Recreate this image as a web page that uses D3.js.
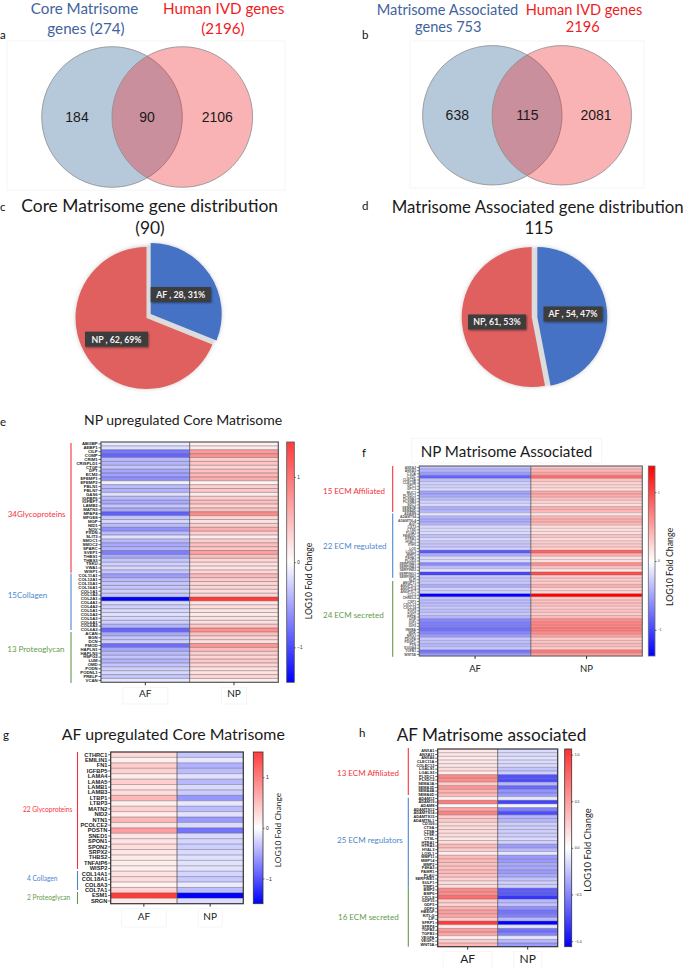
<!DOCTYPE html>
<html>
<head>
<meta charset="utf-8">
<script src="https://cdn.jsdelivr.net/npm/d3@7"></script>
<style>
  html, body { margin: 0; padding: 0; background: #fff; }
  svg { display: block; }
  text { font-family: Lato, sans-serif; fill: #1a1a1a; }
  .gene text { font-family: "Liberation Sans", Arial, sans-serif; font-weight: bold; }
  .tickNum text { font-family: "Liberation Sans", Arial, sans-serif; fill: #222; }
</style>
</head>
<body>
<div id="chart"></div>
<script>
//VENN COUNTS
var vennA = [184, 90, 2106];
var vennB = [638, 115, 2081];

//PIE VALUES
var pieSlices = ["AF", "NP"];
var pieC = [28, 62];
var pieD = [54, 61];
var pieCLabels = ["AF , 28, 31%", "NP  , 62, 69%"];
var pieDLabels = ["AF , 54, 47%", "NP, 61, 53%"];

//HEATMAP COLUMNS
var columns = ["AF", "NP"];

//PANEL E: NP UPREGULATED CORE MATRISOME
var eGenes = ["ABI3BP","AEBP1","CILP","COMP","CRIM1","CRISPLD1","CTGF","DPT","ECM2","EFEMP1","EFEMP2","FBLN1","FBLN7","GAS6","IGFBP6","IGFBP7","LAMB2","MATN3","MFAP4","MFGE8","MGP","NID1","NOV","PXDN","SLIT3","SMOC1","SMOC2","SPARC","SVEP1","THBS1","THBS3","TSKU","VWA1","WISP1",
  "COL11A1","COL12A1","COL15A1","COL16A1","COL1A1","COL1A2","COL2A1","COL4A1","COL4A2","COL5A1","COL5A2","COL5A3","COL6A1","COL6A2","COL6A3",
  "ACAN","BGN","DCN","FMOD","HAPLN1","HAPLN3","HSPG2","LUM","OMD","PODN","PODNL1","PRELP","VCAN"];
var eAF = [-0.12,-0.18,-0.75,-0.85,-0.38,-0.42,-0.32,-0.48,-0.52,-0.62,-0.08,-0.38,-0.42,-0.18,-0.38,-0.48,-0.32,-0.48,-0.88,-0.32,-0.22,-0.38,-0.6,-0.38,-0.16,-0.38,-0.48,-0.42,-0.72,-0.48,-0.32,-0.26,-0.22,-0.32,
  -0.55,-0.38,-0.32,-0.32,-0.26,-0.32,-1.41,-0.2,-0.26,-0.22,-0.16,-0.22,-0.26,-0.42,-0.85,
  -0.48,-0.32,-0.26,-0.8,-0.48,-0.38,-0.32,-0.42,-0.32,-0.26,-0.22,-0.32,-0.14];
var eNP = [0.1,0.16,0.72,0.8,0.36,0.42,0.3,0.44,0.5,0.6,0.08,0.36,0.4,0.16,0.36,0.46,0.3,0.46,0.84,0.3,0.2,0.36,0.56,0.36,0.14,0.36,0.46,0.4,0.68,0.46,0.3,0.24,0.2,0.3,
  0.52,0.36,0.3,0.3,0.24,0.3,1.41,0.18,0.24,0.2,0.14,0.2,0.24,0.4,0.8,
  0.46,0.3,0.24,0.76,0.46,0.36,0.3,0.4,0.3,0.24,0.2,0.3,0.12];

//PANEL F: NP MATRISOME ASSOCIATED
var fGenes = ["ANXA2","ANXA5","C1QA","C1QC","CLEC3A","CLEC3B","GPC1","GPC3","MUC1","PLXDC1","PLXNA1","PLXNB2","SDC1","SEMA3B","SEMA4D",
  "ADAM9","ADAMTS4","ADAMTSL4","AGT","CST3","CTSD","F13A1","FAM20C","HTRA1","HYAL1","ITIH5","LOX","LOXL2","MMP3","P4HA1","PLOD2","SERPINA1","SERPINA3","SERPINE2","SERPING1","SERPINH1","SLPI",
  "ANGPT1","ANGPTL2","ANGPTL4","ANGPTL7","CCL2","CHRDL2","CSF1","CXCL12","CXCL14","FGF2","FGF7","FRZB","HGF","IGF1","IGF2","INHBA","MDK","NRG1","PDGFA","PDGFC","PTN","S100A4","TGFB1","WNT5B"];
var fAF = [-0.35,-0.4,-0.55,-0.85,-0.35,-0.25,-0.25,-0.2,-0.5,-0.45,-0.35,-0.25,-0.2,-0.45,-0.4,
  -0.15,-0.4,-0.45,-0.4,-0.2,-0.2,-0.2,-0.35,-0.2,-0.3,-0.3,-0.25,-0.9,-0.45,-0.2,-0.2,-0.65,-0.35,-0.15,-1.0,-0.3,-0.3,
  -0.3,-0.45,-0.25,-0.25,-1.38,-0.3,-0.35,-0.35,-0.3,-0.35,-0.3,-0.4,-0.65,-0.7,-0.7,-0.75,-0.65,-0.55,-0.3,-0.35,-0.4,-0.3,-0.75,-0.55];
var fNP = [0.33,0.38,0.52,0.8,0.34,0.24,0.24,0.18,0.48,0.44,0.34,0.24,0.18,0.44,0.38,
  0.14,0.38,0.44,0.38,0.18,0.18,0.18,0.34,0.18,0.28,0.28,0.24,0.86,0.44,0.18,0.18,0.62,0.34,0.14,0.96,0.28,0.28,
  0.28,0.44,0.24,0.24,1.38,0.28,0.34,0.34,0.28,0.34,0.28,0.38,0.62,0.66,0.66,0.7,0.62,0.52,0.28,0.34,0.38,0.28,0.72,0.52];

//PANEL G: AF UPREGULATED CORE MATRISOME
var gGenes = ["CTHRC1","EMILIN1","FN1","IGFBP5","LAMA4","LAMA5","LAMB1","LAMB3","LTBP1","LTBP3","MATN2","NID2","NTN1","PCOLCE2","POSTN","SNED1","SPON1","SPON2","SRPX2","THBS2","TNFAIP6","WISP2","COL14A1","COL18A1","COL8A3","COL7A1","ESM1","SRGN"];
var gAF = [0.3,0.12,0.4,0.36,0.15,0.38,0.2,0.26,0.56,0.12,0.36,0.15,0.55,0.2,0.75,0.2,0.22,0.26,0.2,0.16,0.15,0.15,0.22,0.28,0.1,0.34,1.5,0.18];
var gNP = [-0.34,-0.14,-0.46,-0.4,-0.17,-0.42,-0.22,-0.3,-0.62,-0.14,-0.4,-0.17,-0.6,-0.22,-0.82,-0.22,-0.25,-0.28,-0.22,-0.18,-0.17,-0.17,-0.25,-0.32,-0.12,-0.38,-1.5,-0.2];

//PANEL H: AF MATRISOME ASSOCIATED
var hGenes = ["ANXA1","ANXA11","ANXA6","CLEC11A","COLEC12","LGALS1","LGALS3","PLXDC1","PLXDC2","SEMA3A","SEMA3D","SEMA4A","SEMA6D",
  "ADAM12","ADAM19","ADAM8","ADAMTS12","ADAMTS14","ADAMTS15","ADAMTSL1","CD109","CTSA","CTSB","CTSK","CTSL","HTRA1","HTRA3","HYAL3","LOXL1","MMP11","MMP14","MMP2","P4HA3","PAMR1","PLAU","SERPINE1","SULF1","TIMP1",
  "BMP2","BMP6","CXCL8","GDF15","GDF5","GDF6","HBEGF","KITLG","LIF","SFRP1","SFRP4","TGFB2","TGFB3","VEGFA","VEGFC","WNT5A"];
var hAF = [0.13,0.13,0.1,0.13,0.13,0.18,0.1,0.62,0.58,0.26,0.54,0.4,0.36,
  0.08,0.68,0.04,0.46,0.64,0.26,0.26,0.18,0.18,0.18,0.18,0.13,0.18,0.36,0.26,0.08,0.36,0.36,0.32,0.32,0.36,0.32,0.22,0.18,0.18,
  0.6,0.6,0.74,0.26,0.22,0.4,0.5,0.46,0.26,1.0,0.1,0.5,0.46,0.08,0.26,0.36];
var hNP = [-0.15,-0.15,-0.12,-0.15,-0.15,-0.25,-0.2,-0.72,-0.75,-0.3,-0.62,-0.45,-0.42,
  -0.1,-0.78,-0.05,-0.52,-0.74,-0.3,-0.3,-0.2,-0.2,-0.2,-0.2,-0.15,-0.2,-0.42,-0.3,-0.1,-0.42,-0.42,-0.36,-0.36,-0.42,-0.36,-0.25,-0.2,-0.2,
  -0.68,-0.68,-0.84,-0.3,-0.25,-0.46,-0.58,-0.52,-0.3,-1.06,-0.12,-0.58,-0.52,-0.1,-0.3,-0.42];

//CREATE SVG WRAPPER
var svgWidth = 685;
var svgHeight = 969;
var svg = d3.select("#chart").append("svg")
  .attr("width", svgWidth)
  .attr("height", svgHeight);
var defs = svg.append("defs");

//Soft shadow behind the pies and their labels
var pieShadow = defs.append("filter").attr("id", "pieShadow")
  .attr("x", "-20%").attr("y", "-20%").attr("width", "140%").attr("height", "140%");
pieShadow.append("feDropShadow").attr("dx", 0).attr("dy", 0).attr("stdDeviation", 2).attr("flood-color", "#999").attr("flood-opacity", 0.5);
var boxShadow = defs.append("filter").attr("id", "boxShadow")
  .attr("x", "-20%").attr("y", "-30%").attr("width", "140%").attr("height", "170%");
boxShadow.append("feDropShadow").attr("dx", 1).attr("dy", 1).attr("stdDeviation", 1).attr("flood-color", "#000").attr("flood-opacity", 0.45);

//Plain text helper, lines are placed by hand to follow the original figure
function label(x, y, str, size, color, anchor) {
  return svg.append("text")
    .attr("x", x)
    .attr("y", y)
    .attr("font-size", size)
    .attr("text-anchor", anchor || "start")
    .style("fill", color || "#1a1a1a")
    .text(str);
}

//Very faint box that sits behind pasted labels
function faintBox(x, y, w, h) {
  svg.append("rect")
    .attr("x", x).attr("y", y).attr("width", w).attr("height", h)
    .attr("fill", "none").attr("stroke", "#f5f5f5").attr("stroke-width", 1);
}

//VENN DIAGRAMS
function drawVenn(counts, cxLeft, cxRight, cy, r, textX, textY) {
  svg.append("circle").attr("cx", cxLeft).attr("cy", cy).attr("r", r)
    .attr("fill", "#b6c9da").attr("stroke", "#8d8d8d").attr("stroke-width", 0.8);
  svg.append("circle").attr("cx", cxRight).attr("cy", cy).attr("r", r)
    .attr("fill", "rgb(240,25,30)").attr("fill-opacity", 0.33).attr("stroke", "#8d8d8d").attr("stroke-width", 0.8);
  counts.forEach(function(d, i) {
    svg.append("text")
      .attr("x", textX[i]).attr("y", textY)
      .attr("text-anchor", "middle")
      .attr("font-size", 14)
      .style("font-family", "'Liberation Sans', Arial, sans-serif")
      .text(d);
  });
}

faintBox(7, 41, 278, 149);
faintBox(410, 41, 234, 147);
drawVenn(vennA, 112, 182.3, 117, 70.3, [77, 147, 217.3], 121.5);
drawVenn(vennB, 492.3, 561.8, 115.3, 69.7, [457.3, 527.3, 596], 120);

//PIES
function drawPie(values, labels, afCenter, npCenter, radius, boxes) {
  var pie = d3.pie().sort(null).startAngle(0).endAngle(2 * Math.PI);
  var arc = d3.arc().innerRadius(0).outerRadius(radius);
  var arcs = pie(values);
  var mid = [(afCenter[0] + npCenter[0]) / 2, (afCenter[1] + npCenter[1]) / 2];

  var pieGroup = svg.append("g").attr("filter", "url(#pieShadow)");
  pieGroup.append("circle")
    .attr("cx", mid[0]).attr("cy", mid[1]).attr("r", radius - 1)
    .attr("fill", "#dcdcdc");
  pieGroup.selectAll("path")
    .data(arcs)
    .enter()
    .append("path")
    .attr("d", arc)
    .attr("transform", function(d, i) {
      var c = i === 0 ? afCenter : npCenter;
      return "translate(" + c[0] + "," + c[1] + ")";
    })
    .attr("fill", function(d, i) { return i === 0 ? "#4472c4" : "#e0605e"; });

  labels.forEach(function(str, i) {
    var b = boxes[i];
    svg.append("rect")
      .attr("x", b[0]).attr("y", b[1]).attr("width", b[2]).attr("height", 15)
      .attr("fill", "#3d3d3d")
      .attr("filter", "url(#boxShadow)");
    svg.append("text")
      .attr("x", b[0] + b[2] / 2).attr("y", b[1] + 10.8)
      .attr("text-anchor", "middle")
      .attr("font-size", 8.8)
      .attr("font-weight", "bold")
      .style("fill", "#f2f2f2")
      .text(str);
  });
}

drawPie(pieC, pieCLabels, [150.7, 314], [146.5, 318], 71, [[150.7, 287, 60], [85, 331.7, 63]]);
drawPie(pieD, pieDLabels, [537.3, 317], [531.7, 317], 70, [[543.5, 306.5, 59], [468, 314.5, 58]]);

//HEATMAP
function drawHeatmap(opt) {
  var x = d3.scaleBand().domain(columns).range([opt.left, opt.right]);
  var y = d3.scaleBand().domain(opt.genes).range([opt.top, opt.bottom]);
  var color = d3.scaleLinear()
    .domain([-opt.max, 0, opt.max])
    .range(["#0000ff", "#ffffff", opt.red]);

  //Cells
  var cells = [];
  opt.genes.forEach(function(g, i) {
    cells.push({ gene: g, col: "AF", value: opt.af[i] });
    cells.push({ gene: g, col: "NP", value: opt.np[i] });
  });
  svg.append("g").selectAll("rect")
    .data(cells)
    .enter()
    .append("rect")
    .attr("x", function(d) { return x(d.col); })
    .attr("y", function(d) { return y(d.gene); })
    .attr("width", x.bandwidth())
    .attr("height", y.bandwidth())
    .attr("fill", function(d) { return color(d.value); });

  //Row separators
  svg.append("g").selectAll("line")
    .data(opt.genes.slice(1))
    .enter()
    .append("line")
    .attr("x1", opt.left)
    .attr("x2", opt.right)
    .attr("y1", function(d) { return y(d); })
    .attr("y2", function(d) { return y(d); })
    .attr("stroke", "#4c4c4c")
    .attr("stroke-opacity", opt.rowLine)
    .attr("stroke-width", 0.8);

  //Column divider and frame
  svg.append("line")
    .attr("x1", x("NP")).attr("x2", x("NP"))
    .attr("y1", opt.top).attr("y2", opt.bottom)
    .attr("stroke", "#555").attr("stroke-width", 0.8);
  svg.append("rect")
    .attr("x", opt.left).attr("y", opt.top)
    .attr("width", opt.right - opt.left).attr("height", opt.bottom - opt.top)
    .attr("fill", "none").attr("stroke", opt.frame).attr("stroke-width", 1.2);

  //Gene axis
  var geneAxis = d3.axisLeft(y).tickSize(2.5).tickPadding(0.8);
  var geneGroup = svg.append("g")
    .attr("class", "gene")
    .attr("transform", "translate(" + opt.left + ",0)")
    .call(geneAxis);
  geneGroup.select(".domain").remove();
  geneGroup.selectAll("line").attr("stroke", opt.geneColor).attr("stroke-width", 0.7);
  geneGroup.selectAll("text").attr("font-size", opt.geneSize).style("fill", opt.geneColor);

  //Column axis
  var colAxis = d3.axisBottom(x).tickSize(3).tickFormat("");
  var colGroup = svg.append("g")
    .attr("transform", "translate(0," + opt.bottom + ")")
    .call(colAxis);
  colGroup.select(".domain").remove();
  colGroup.selectAll("line").attr("stroke", "#333");

  columns.forEach(function(c) {
    var cx = x(c) + x.bandwidth() / 2;
    var bw = c === "AF" ? opt.boxAF : opt.boxNP;
    if (bw > 0) {
      faintBox(cx - bw / 2, opt.bottom + 5, bw, opt.colY - opt.bottom + 2);
    }
    label(cx, opt.colY, c, opt.colSize, "#222", "middle");
  });

  //Color bar drawn from the same scale
  var gradId = "grad" + opt.id;
  var grad = defs.append("linearGradient").attr("id", gradId)
    .attr("x1", 0).attr("x2", 0).attr("y1", 1).attr("y2", 0);
  [-opt.max, 0, opt.max].forEach(function(v) {
    grad.append("stop")
      .attr("offset", (v + opt.max) / (2 * opt.max))
      .attr("stop-color", color(v));
  });
  var barScale = d3.scaleLinear().domain([-opt.max, opt.max]).range([opt.bottom, opt.top]);
  svg.append("rect")
    .attr("x", opt.barLeft).attr("y", opt.top)
    .attr("width", opt.barWidth).attr("height", opt.bottom - opt.top)
    .attr("fill", "url(#" + gradId + ")")
    .attr("stroke", opt.frame).attr("stroke-width", 0.8);
  var barAxis = d3.axisRight(barScale)
    .tickValues(opt.ticks)
    .tickSize(1.5)
    .tickPadding(1.5)
    .tickFormat(opt.tickFormat);
  var barGroup = svg.append("g")
    .attr("class", "tickNum")
    .attr("transform", "translate(" + (opt.barLeft + opt.barWidth) + ",0)")
    .call(barAxis);
  barGroup.select(".domain").remove();
  barGroup.selectAll("line").attr("stroke", "#333").attr("stroke-width", 0.7);
  barGroup.selectAll("text").attr("font-size", opt.tickSize);

  //Color bar title
  svg.append("text")
    .attr("transform", "translate(" + opt.barTitleX + "," + opt.barTitleY + ") rotate(-90)")
    .attr("text-anchor", "middle")
    .attr("font-size", opt.barTitleSize)
    .text("LOG10  Fold Change");

  //Group brackets
  opt.groups.forEach(function(g) {
    svg.append("line")
      .attr("x1", opt.bracketX).attr("x2", opt.bracketX)
      .attr("y1", g.y1).attr("y2", g.y2)
      .attr("stroke", g.color).attr("stroke-width", 1.1);
    label(g.textX, g.textY, g.text, opt.groupSize, g.color);
  });
}

var groupRed = "#f5333c";
var groupBlue = "#4d86cf";
var groupGreen = "#659a4c";

drawHeatmap({
  id: "E", genes: eGenes, af: eAF, np: eNP,
  left: 101, right: 278.3, top: 442, bottom: 682.3,
  max: 1.41, red: "#ff3b3b", rowLine: 0.55, frame: "#555",
  geneSize: 4.3, geneColor: "#222", colSize: 10, colY: 697, boxAF: 45, boxNP: 25,
  barLeft: 286.7, barWidth: 7.6, ticks: [-1, 0, 1], tickFormat: d3.format("d"), tickSize: 4.5,
  barTitleX: 312, barTitleY: 581, barTitleSize: 8.6,
  bracketX: 71, groupSize: 8,
  groups: [
    { y1: 443, y2: 572.7, color: groupRed, text: "34Glycoproteins", textX: 7.7, textY: 517 },
    { y1: 573.5, y2: 630, color: groupBlue, text: "15Collagen", textX: 7.7, textY: 598 },
    { y1: 632, y2: 683, color: groupGreen, text: "13 Proteoglycan", textX: 7.3, textY: 652 }
  ]
});

drawHeatmap({
  id: "F", genes: fGenes, af: fAF, np: fNP,
  left: 419.3, right: 642.3, top: 466, bottom: 656,
  max: 1.38, red: "#ff0000", rowLine: 0.35, frame: "#6a6a6a",
  geneSize: 3.3, geneColor: "#555", colSize: 9.5, colY: 672, boxAF: 0, boxNP: 0,
  barLeft: 648.3, barWidth: 6.7, ticks: [-1, 0, 1], tickFormat: d3.format("d"), tickSize: 3,
  barTitleX: 673, barTitleY: 567, barTitleSize: 8.8,
  bracketX: 392.7, groupSize: 8,
  groups: [
    { y1: 466, y2: 512, color: groupRed, text: "15 ECM Affiliated", textX: 323, textY: 494 },
    { y1: 513.5, y2: 577.7, color: groupBlue, text: "22 ECM regulated", textX: 323, textY: 549 },
    { y1: 581, y2: 656.7, color: groupGreen, text: "24 ECM secreted", textX: 323, textY: 617.5 }
  ]
});

drawHeatmap({
  id: "G", genes: gGenes, af: gAF, np: gNP,
  left: 110.7, right: 243.3, top: 752, bottom: 903.7,
  max: 1.5, red: "#ff3d3d", rowLine: 0.5, frame: "#333",
  geneSize: 5.7, geneColor: "#222", colSize: 10, colY: 920, boxAF: 45, boxNP: 24,
  barLeft: 253.3, barWidth: 9.7, ticks: [-1, 0, 1], tickFormat: d3.format("d"), tickSize: 5,
  barTitleX: 281, barTitleY: 830, barTitleSize: 8.4,
  bracketX: 77.5, groupSize: 6.6,
  groups: [
    { y1: 752, y2: 869, color: groupRed, text: "22 Glycoproteins", textX: 23, textY: 812 },
    { y1: 871, y2: 890, color: groupBlue, text: "4 Collagen", textX: 27, textY: 881 },
    { y1: 892, y2: 904, color: groupGreen, text: "2 Proteoglycan", textX: 27, textY: 899.5 }
  ]
});

drawHeatmap({
  id: "H", genes: hGenes, af: hAF, np: hNP,
  left: 437.7, right: 557.7, top: 749, bottom: 946.7,
  max: 1.06, red: "#ff3030", rowLine: 0.45, frame: "#333",
  geneSize: 3.9, geneColor: "#222", colSize: 12, colY: 963, boxAF: 49, boxNP: 28,
  barLeft: 564.7, barWidth: 7, ticks: [-1, -0.5, 0, 0.5, 1], tickFormat: d3.format(".1f"), tickSize: 3.5,
  barTitleX: 591, barTitleY: 850, barTitleSize: 9.4,
  bracketX: 408.3, groupSize: 8,
  groups: [
    { y1: 748, y2: 795, color: groupRed, text: "13 ECM Affiliated", textX: 337, textY: 775.5 },
    { y1: 797.7, y2: 887.7, color: "#4a86c8", text: "25 ECM regulators", textX: 337, textY: 842.5 },
    { y1: 887.7, y2: 946.7, color: groupGreen, text: "16 ECM secreted", textX: 338, textY: 920 }
  ]
});

//TITLES
var blueTitle = "#41639c";
var redTitle = "#f01c24";
label(84.5, 14, "Core Matrisome", 15.2, blueTitle, "middle");
label(86, 34, "genes (274)", 15.2, blueTitle, "middle");
label(223.7, 14, "Human IVD genes", 15.2, redTitle, "middle");
label(223, 34, "(2196)", 15.2, redTitle, "middle");
label(447.5, 15, "Matrisome Associated", 14.6, blueTitle, "middle");
label(448.3, 32, "genes 753", 14.6, blueTitle, "middle");
label(584, 15, "Human IVD genes", 14.6, redTitle, "middle");
label(582.7, 32, "2196", 14.6, redTitle, "middle");

label(149.7, 212, "Core Matrisome gene distribution", 17.4, "#1a1a1a", "middle");
label(150, 234, "(90)", 17.4, "#1a1a1a", "middle");
label(537.7, 213, "Matrisome Associated gene distribution", 16.8, "#1a1a1a", "middle");
label(539, 234, "115", 16.8, "#1a1a1a", "middle");

label(84, 425, "NP upregulated  Core Matrisome", 14, "#1a1a1a");
faintBox(411.7, 438.3, 190, 24.7);
label(420.7, 456.5, "NP Matrisome Associated", 15.2, "#1a1a1a");
label(61.7, 740, "AF upregulated  Core Matrisome", 15.9, "#1a1a1a");
label(396.7, 741, "AF Matrisome associated", 17.2, "#1a1a1a");

//PANEL LETTERS
var letters = ["a", "b", "c", "d", "e", "f", "g", "h"];
var letterX = [0, 362, 0, 362, 0, 362, 3, 359];
var letterY = [39, 39, 211, 210, 426, 457, 739, 737];
letters.forEach(function(l, i) {
  label(letterX[i], letterY[i], l, 11.5, "#111");
});
</script>
</body>
</html>
